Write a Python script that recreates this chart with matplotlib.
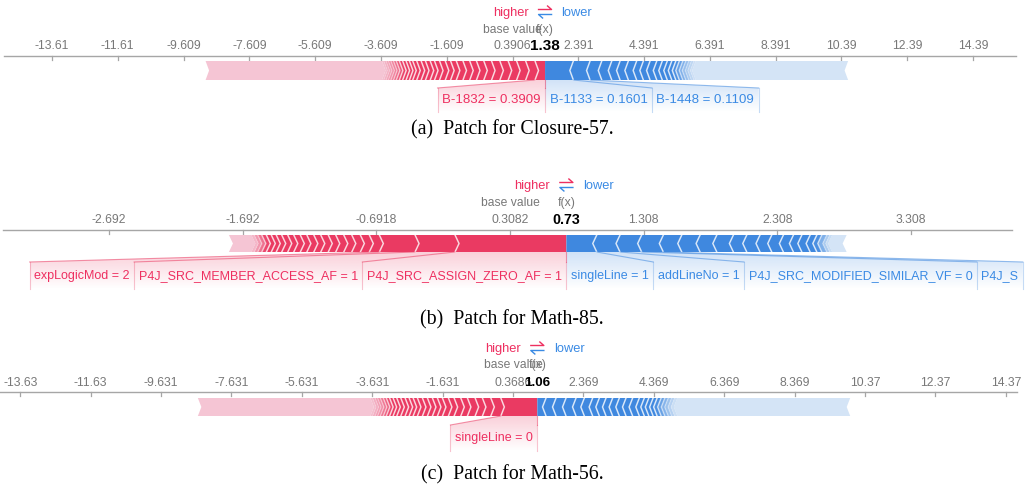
import matplotlib
matplotlib.use("Agg")
import matplotlib.pyplot as plt
import numpy as np
from matplotlib.colors import to_rgb
from matplotlib.patches import Polygon

plt.rcParams["font.family"] = ["Liberation Sans", "DejaVu Sans"]

W, H = 1029, 489

RED = "#ea3a62"
BLUE = "#3f88df"
RED_LIGHT = "#f5c5d4"
BLUE_LIGHT = "#d4e4f6"
RED_TXT = "#ee2f60"
BLUE_TXT = "#3a8ae4"
GREY = "#787878"

# ---- (a) Closure-57
base_a = 0.3906
fx_a = 1.38
ticks_a = [-13.61, -11.61, -9.609, -7.609, -5.609, -3.609, -1.609, 0.3906,
           2.391, 4.391, 6.391, 8.391, 10.39, 12.39, 14.39]
pos_a = [0.305, 0.284, 0.275, 0.256, 0.253, 0.253, 0.235, 0.223, 0.205, 0.205,
         0.202, 0.174, 0.162, 0.174, 0.153, 0.131, 0.144, 0.131, 0.134, 0.122,
         0.101, 0.101, 0.104, 0.101, 0.092, 0.085, 0.079, 0.076, 0.070, 0.067, 0.061]
pos_rest_a = 5.36
neg_a = [0.860, 0.508, 0.356, 0.304, 0.252, 0.252, 0.252, 0.204, 0.204, 0.204,
         0.167, 0.152, 0.137, 0.122, 0.106, 0.106, 0.091, 0.091, 0.076, 0.076, 0.061]
neg_rest_a = 4.63
pos_names_a = ["B-1832 = 0.3909"]
neg_names_a = ["B-1133 = 0.1601", "B-1448 = 0.1109"]
caption_a = "(a)  Patch for Closure-57."

# ---- (b) Math-85
base_b = 0.3082
fx_b = 0.73
ticks_b = [-2.692, -1.692, -0.6918, 0.3082, 1.308, 2.308, 3.308]
pos_b = [0.833, 0.299, 0.267, 0.075, 0.067, 0.064, 0.060, 0.060, 0.056, 0.056,
         0.052, 0.052, 0.049, 0.049, 0.045, 0.045, 0.041, 0.037, 0.037, 0.034,
         0.030, 0.026, 0.022]
pos_rest_b = 0.168
neg_b = [0.227, 0.174, 0.162, 0.162, 0.138, 0.137, 0.125, 0.124, 0.100, 0.099,
         0.088, 0.087, 0.075, 0.063, 0.062, 0.050, 0.037, 0.037, 0.022, 0.019]
neg_rest_b = 0.108
pos_names_b = ["P4J_SRC_ASSIGN_ZERO_AF = 1", "P4J_SRC_MEMBER_ACCESS_AF = 1",
               "expLogicMod = 2"]
neg_names_b = ["singleLine = 1", "addLineNo = 1",
               "P4J_SRC_MODIFIED_SIMILAR_VF = 0", "P4J_S"]
caption_b = "(b)  Patch for Math-85."

# ---- (c) Math-56
base_c = 0.3686
fx_c = 1.06
ticks_c = [-13.63, -11.63, -9.631, -7.631, -5.631, -3.631, -1.631, 0.3686,
           2.369, 4.369, 6.369, 8.369, 10.37, 12.37, 14.37]
pos_c = [1.037, 0.284, 0.239, 0.207, 0.219, 0.188, 0.190, 0.162, 0.170, 0.142,
         0.142, 0.142, 0.142, 0.142, 0.122, 0.114, 0.114, 0.122, 0.114, 0.105,
         0.099, 0.094, 0.085, 0.085, 0.077, 0.071, 0.071, 0.065]
pos_rest_c = 4.90
neg_c = [0.247, 0.284, 0.284, 0.284, 0.236, 0.236, 0.190, 0.190, 0.188, 0.190,
         0.190, 0.188, 0.190, 0.142, 0.128, 0.122, 0.114, 0.114, 0.105, 0.097,
         0.094, 0.085, 0.080]
neg_rest_c = 4.91
pos_names_c = ["singleLine = 0"]
neg_names_c = []
caption_c = "(c)  Patch for Math-56."

# layout of each panel, in pixel rows/columns of the figure
lay_a = dict(ppu=32.9, base_px=512.5, chev=3.5, fade=20, legend=13, base_y=30,
             tick_y=46, axis_y=57, axis_x=(4, 1016), bar=(62, 81),
             lab=(89, 100, 113), cap=130, lab_fs=9.5, val_fs=11)
lay_b = dict(ppu=133.7, base_px=510, chev=4, fade=14, legend=186, base_y=203,
             tick_y=220, axis_y=231, axis_x=(3, 1012), bar=(236, 253),
             lab=(263, 276, 290), cap=320, lab_fs=9, val_fs=10.3)
lay_c = dict(ppu=35.2, base_px=513, chev=3.5, fade=20, legend=349, base_y=365,
             tick_y=383, axis_y=393, axis_x=(0, 1017), bar=(399, 417),
             lab=(426, 438, 452), cap=475, lab_fs=9, val_fs=9.7)


def mix(c1, c2, t):
    a, b = np.array(to_rgb(c1)), np.array(to_rgb(c2))
    return tuple(a + (b - a) * t)


def fade_fill(ax, verts, color, y0, y1, a0, a1):
    xs = [v[0] for v in verts]
    img = np.zeros((60, 2, 4))
    img[..., :3] = to_rgb(color)
    img[..., 3] = np.linspace(a0, a1, 60)[:, None]
    im = ax.imshow(img, extent=(min(xs), max(xs), y1, y0), origin="upper",
                   aspect="auto", interpolation="bilinear", zorder=1)
    im.set_clip_path(Polygon(verts, closed=True, transform=ax.transData))


def draw_side(ax, fx, vals, rest, sign, strong, light, lay):
    ppu = lay["ppu"]
    top, bot = lay["bar"]
    mid = (top + bot) / 2
    tip = -sign * lay["chev"] / ppu
    edges = fx + sign * np.cumsum([0] + list(vals))
    last = edges[-1]
    # tail of small features
    end = last + sign * rest
    ax.add_patch(Polygon([(last, top), (last + tip, mid), (last, bot), (end, bot),
                          (end + tip, mid), (end, top)],
                         closed=True, fc=light, ec="none", zorder=2))
    for i in range(len(vals)):
        e_in, e_out = edges[i], edges[i + 1]
        t = min(abs((e_in + e_out) / 2 - last) * ppu / lay["fade"], 1)
        verts = [(e_in, top)]
        if i > 0:
            verts.append((e_in + tip, mid))
        verts += [(e_in, bot), (e_out, bot), (e_out + tip, mid), (e_out, top)]
        ax.add_patch(Polygon(verts, closed=True, fc=mix(light, strong, t),
                             ec="none", zorder=2))
    for e in edges[1:-1]:
        t = min(abs(e - last) * ppu / lay["fade"], 1)
        ax.plot([e, e + tip, e], [top, mid, bot], color="white", lw=1.1,
                alpha=0.75 * t, zorder=3, solid_joinstyle="miter")
    return edges


def draw_labels(ax, fx, edges, names, sign, color, txtcolor, lay, p2v, v2p, rend):
    top, bot = lay["bar"]
    ltop, lc, lbot = lay["lab"]
    pad = 4.5
    near = v2p(fx)
    for i, name in enumerate(names):
        t = ax.text(p2v(near + sign * pad), lc, name, ha="left" if sign > 0 else "right",
                    va="center", color=txtcolor, fontsize=lay["lab_fs"], zorder=5)
        w = t.get_window_extent(renderer=rend).width
        far = near + sign * (w + 2 * pad)
        verts = [(edges[i], bot), (edges[i + 1], bot), (p2v(far), ltop),
                 (p2v(far), lbot), (p2v(near), lbot), (p2v(near), ltop)]
        fade_fill(ax, verts, color, bot, lbot, 0.24, 0.0)
        ax.plot([edges[i + 1], p2v(far)], [bot, ltop],
                color=color, lw=0.8, alpha=0.55, zorder=4)
        ax.plot([p2v(far), p2v(far)], [ltop, lbot],
                color=color, lw=0.8, alpha=0.3, zorder=4)
        if i == 0 and sign < 0:
            ax.plot([fx, p2v(near)], [bot, ltop],
                    color=color, lw=0.8, alpha=0.55, zorder=4)
            ax.plot([p2v(near), p2v(near)], [ltop, lbot],
                    color=color, lw=0.8, alpha=0.3, zorder=4)
        near = far


def draw_panel(fig, rend, base, fx, ticks, pos, pos_rest, neg, neg_rest,
               pos_names, neg_names, caption, lay):
    ax = fig.add_axes([0, 0, 1, 1])
    ax.patch.set_alpha(0)
    ppu, bpx = lay["ppu"], lay["base_px"]

    def p2v(p):
        return base + (p - bpx) / ppu

    def v2p(v):
        return bpx + (v - base) * ppu

    # axis with ticks on top
    ay = lay["axis_y"]
    ax.plot([p2v(lay["axis_x"][0]), p2v(lay["axis_x"][1])], [ay, ay],
            color="#a6a6a6", lw=1.0, zorder=1)
    for tk in ticks:
        ax.plot([tk, tk], [ay, ay + 4], color="#a6a6a6", lw=0.9, zorder=1)
        ax.text(tk, lay["tick_y"], "%.4g" % tk, ha="center", va="center",
                color=GREY, fontsize=8.7)
    ax.text(fx, lay["tick_y"], "%.2f" % fx, ha="center", va="center",
            color="black", fontsize=lay["val_fs"], fontweight="bold", zorder=6)
    ax.text(base, lay["base_y"], "base value", ha="center", va="center",
            color=GREY, fontsize=8.7)
    ax.text(fx, lay["base_y"], "f(x)", ha="center", va="center",
            color=GREY, fontsize=8.7)

    # higher / lower legend
    fpx = v2p(fx)
    ly = lay["legend"]
    ax.text(p2v(fpx - 16.5), ly, "higher", ha="right", va="center",
            color=RED_TXT, fontsize=9.3)
    ax.text(p2v(fpx + 16.5), ly, "lower", ha="left", va="center",
            color=BLUE_TXT, fontsize=9.3)
    ax.plot([p2v(fpx - 6.5), p2v(fpx + 6.5), p2v(fpx + 2.5)],
            [ly - 2.5, ly - 2.5, ly - 6], color=RED_TXT, lw=1.0)
    ax.plot([p2v(fpx + 6.5), p2v(fpx - 6.5), p2v(fpx - 2.5)],
            [ly + 2.5, ly + 2.5, ly + 6], color=BLUE_TXT, lw=1.0)

    # force bars
    red_edges = draw_side(ax, fx, pos, pos_rest, -1, RED, RED_LIGHT, lay)
    blue_edges = draw_side(ax, fx, neg, neg_rest, 1, BLUE, BLUE_LIGHT, lay)

    draw_labels(ax, fx, red_edges, pos_names, -1, RED, RED_TXT, lay, p2v, v2p, rend)
    draw_labels(ax, fx, blue_edges, neg_names, 1, BLUE, BLUE_TXT, lay, p2v, v2p, rend)

    ax.text(p2v(512), lay["cap"], caption, ha="center", va="center",
            family="Liberation Serif", fontsize=14.3, color="black")

    ax.set_xlim(p2v(0), p2v(W))
    ax.set_ylim(H, 0)
    ax.axis("off")


fig = plt.figure(figsize=(W / 100, H / 100), dpi=100)
rend = fig.canvas.get_renderer()
draw_panel(fig, rend, base_a, fx_a, ticks_a, pos_a, pos_rest_a, neg_a, neg_rest_a,
           pos_names_a, neg_names_a, caption_a, lay_a)
draw_panel(fig, rend, base_b, fx_b, ticks_b, pos_b, pos_rest_b, neg_b, neg_rest_b,
           pos_names_b, neg_names_b, caption_b, lay_b)
draw_panel(fig, rend, base_c, fx_c, ticks_c, pos_c, pos_rest_c, neg_c, neg_rest_c,
           pos_names_c, neg_names_c, caption_c, lay_c)
fig.savefig("out.png", dpi=100, facecolor="white")
